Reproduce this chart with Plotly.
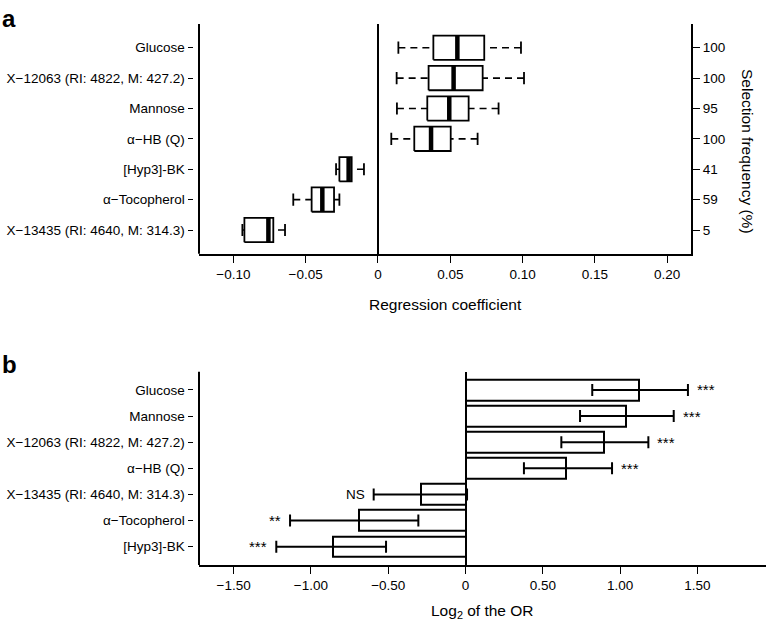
import plotly.graph_objects as go

W, H = 767, 627
FONT = "Liberation Sans, Arial, Helvetica, sans-serif"

# ---------------- Panel a data (top to bottom) ----------------
cats_a = ["Glucose", "X\u221212063 (RI: 4822, M: 427.2)", "Mannose", "\u03b1\u2212HB (Q)",
          "[Hyp3]-BK", "\u03b1\u2212Tocopherol", "X\u221213435 (RI: 4640, M: 314.3)"]
whisk_lo = [0.0141, 0.0129, 0.0131, 0.0092, -0.0290, -0.0586, -0.0938]
q1 = [0.0383, 0.0350, 0.0341, 0.0251, -0.0267, -0.0459, -0.0924]
median = [0.0549, 0.0523, 0.0493, 0.0367, -0.0203, -0.0385, -0.0758]
q3 = [0.0735, 0.0724, 0.0627, 0.0503, -0.0182, -0.0304, -0.0724]
whisk_hi = [0.0989, 0.1010, 0.0834, 0.0689, -0.0097, -0.0267, -0.0643]
sel_freq = ["100", "100", "95", "100", "41", "59", "5"]
xticks_a = [-0.10, -0.05, 0, 0.05, 0.10, 0.15, 0.20]
xticklabels_a = ["\u22120.10", "\u22120.05", "0", "0.05", "0.10", "0.15", "0.20"]

# ---------------- Panel b data (top to bottom) ----------------
cats_b = ["Glucose", "Mannose", "X\u221212063 (RI: 4822, M: 427.2)", "\u03b1\u2212HB (Q)",
          "X\u221213435 (RI: 4640, M: 314.3)", "\u03b1\u2212Tocopherol", "[Hyp3]-BK"]
log2_or = [1.122, 1.036, 0.894, 0.652, -0.290, -0.687, -0.857]
ci_lo = [0.820, 0.741, 0.620, 0.378, -0.594, -1.135, -1.224]
ci_hi = [1.439, 1.347, 1.183, 0.948, 0.010, -0.305, -0.514]
signif = ["***", "***", "***", "***", "NS", "**", "***"]
xticks_b = [-1.5, -1.0, -0.5, 0, 0.5, 1.0, 1.5]
xticklabels_b = ["\u22121.50", "\u22121.00", "\u22120.50", "0", "0.50", "1.00", "1.50"]

n_a = len(cats_a)
pos_a = [n_a - i for i in range(n_a)]
n_b = len(cats_b)
pos_b = [n_b - i for i in range(n_b)]

fig = go.Figure()

# ---- boxes (panel a) ----
bh = 0.40   # half box height
ch = 0.20   # half cap height
rx, ry, mx, my, wx, wy, cx, cy = [], [], [], [], [], [], [], []
for i in range(n_a):
    y = pos_a[i]
    rx += [q1[i], q3[i], q3[i], q1[i], q1[i], None]
    ry += [y - bh, y - bh, y + bh, y + bh, y - bh, None]
    mx += [median[i], median[i], None]
    my += [y - bh, y + bh, None]
    wx += [whisk_lo[i], q1[i], None, whisk_hi[i], q3[i], None]
    wy += [y, y, None, y, y, None]
    cx += [whisk_lo[i], whisk_lo[i], None, whisk_hi[i], whisk_hi[i], None]
    cy += [y - ch, y + ch, None, y - ch, y + ch, None]

common = dict(mode="lines", xaxis="x", yaxis="y", hoverinfo="skip", showlegend=False)
fig.add_trace(go.Scatter(x=wx, y=wy, line=dict(color="black", width=1.6, dash="7px,5px"), **common))
fig.add_trace(go.Scatter(x=cx, y=cy, line=dict(color="black", width=1.8), **common))
fig.add_trace(go.Scatter(x=rx, y=ry, line=dict(color="black", width=1.8), **common))
fig.add_trace(go.Scatter(x=mx, y=my, line=dict(color="black", width=4.5), **common))
# carrier trace so the right-hand (selection frequency) axis is rendered
fig.add_trace(go.Scatter(x=median, y=pos_a, xaxis="x", yaxis="y3", mode="markers",
                         marker=dict(opacity=0, size=1), hoverinfo="skip", showlegend=False))

# ---- bars (panel b) ----
fig.add_trace(go.Bar(
    x=log2_or, y=pos_b, orientation="h", xaxis="x2", yaxis="y2", width=0.8,
    marker=dict(color="white", line=dict(color="black", width=2)),
    error_x=dict(type="data", symmetric=False,
                 array=[h - v for h, v in zip(ci_hi, log2_or)],
                 arrayminus=[v - l for v, l in zip(log2_or, ci_lo)],
                 color="black", thickness=2, width=6),
    hoverinfo="skip", showlegend=False))

annotations = []
for i in range(n_b):
    fsz = 13.5 if signif[i] == "NS" else 15
    if log2_or[i] >= 0:
        annotations.append(dict(x=ci_hi[i], y=pos_b[i], xref="x2", yref="y2", text=signif[i],
                                showarrow=False, xanchor="left", yanchor="middle", xshift=7,
                                font=dict(size=fsz, color="black", family=FONT)))
    else:
        annotations.append(dict(x=ci_lo[i], y=pos_b[i], xref="x2", yref="y2", text=signif[i],
                                showarrow=False, xanchor="right", yanchor="middle", xshift=-7,
                                font=dict(size=fsz, color="black", family=FONT)))

# panel letters and titles
annotations += [
    dict(x=0, y=1 - 18 / H, xref="paper", yref="paper", text="<b>a</b>", showarrow=False,
         xanchor="left", yanchor="middle", font=dict(size=24, color="black", family=FONT)),
    dict(x=0, y=1 - 364 / H, xref="paper", yref="paper", text="<b>b</b>", showarrow=False,
         xanchor="left", yanchor="middle", font=dict(size=24, color="black", family=FONT)),
    dict(x=0.5, y=1 - 304 / H, xref="x domain", yref="paper", text="Regression coefficient",
         showarrow=False, xanchor="center", yanchor="middle", font=dict(size=15.5, color="black", family=FONT)),
    dict(x=0.5, y=1 - 611 / H, xref="x2 domain", yref="paper", text="Log<sub>2</sub> of the OR",
         showarrow=False, xanchor="center", yanchor="middle", font=dict(size=15.5, color="black", family=FONT)),
    dict(x=747 / W, y=1 - 151 / H, xref="paper", yref="paper", text="Selection frequency (%)",
         showarrow=False, textangle=90, xanchor="center", yanchor="middle",
         font=dict(size=15.5, color="black", family=FONT)),
]

tickfont = dict(size=13.5, color="black", family=FONT)
xa_dom = [199 / W, 691 / W]
xb_dom = [199 / W, 766 / W]
ya_dom = [1 - 253.7 / H, 1 - 24 / H]
yb_dom = [1 - 565 / H, 1 - 371.7 / H]

fig.update_layout(
    width=W, height=H, margin=dict(l=0, r=0, t=0, b=0),
    paper_bgcolor="white", plot_bgcolor="white",
    font=dict(family=FONT, color="black"),
    bargap=0,
    xaxis=dict(domain=xa_dom, anchor="y", range=[-0.1238, 0.2165], tickvals=xticks_a,
               ticktext=xticklabels_a, ticks="outside", ticklen=7, tickwidth=1.2, tickcolor="black",
               showline=True, linewidth=2, linecolor="black", showgrid=False,
               zeroline=True, zerolinewidth=2, zerolinecolor="black", tickfont=tickfont),
    yaxis=dict(domain=ya_dom, anchor="free", position=193 / W, range=[0.22, 7.78],
               tickvals=pos_a, ticktext=cats_a, ticks="outside", ticklen=5.5, tickwidth=1.2,
               tickcolor="black", showline=False, showgrid=False, zeroline=False, tickfont=tickfont),
    yaxis3=dict(overlaying="y", side="right", anchor="x", range=[0.22, 7.78],
                tickvals=pos_a, ticktext=sel_freq, ticks="outside", ticklen=7, tickwidth=1.2,
                tickcolor="black", showline=True, linewidth=2, linecolor="black",
                showgrid=False, zeroline=False, tickfont=tickfont),
    xaxis2=dict(domain=xb_dom, anchor="y2", range=[-1.724, 1.944], tickvals=xticks_b,
                ticktext=xticklabels_b, ticks="outside", ticklen=7, tickwidth=1.2, tickcolor="black",
                showline=True, linewidth=2, linecolor="black", showgrid=False,
                zeroline=True, zerolinewidth=2, zerolinecolor="black", tickfont=tickfont),
    yaxis2=dict(domain=yb_dom, anchor="free", position=193 / W, range=[0.30, 7.70],
                tickvals=pos_b, ticktext=cats_b, ticks="outside", ticklen=5.5, tickwidth=1.2,
                tickcolor="black", showline=False, showgrid=False, zeroline=False, tickfont=tickfont),
    annotations=annotations,
    shapes=[
        dict(type="line", xref="x domain", yref="y domain", x0=0, x1=0, y0=0, y1=1,
             line=dict(color="black", width=2)),
        dict(type="line", xref="x2 domain", yref="y2 domain", x0=0, x1=0, y0=0, y1=1,
             line=dict(color="black", width=2)),
    ],
)

fig.write_html("out.html", config={"displayModeBar": False},
               post_script="document.body.style.margin='0';document.body.style.padding='0';")
